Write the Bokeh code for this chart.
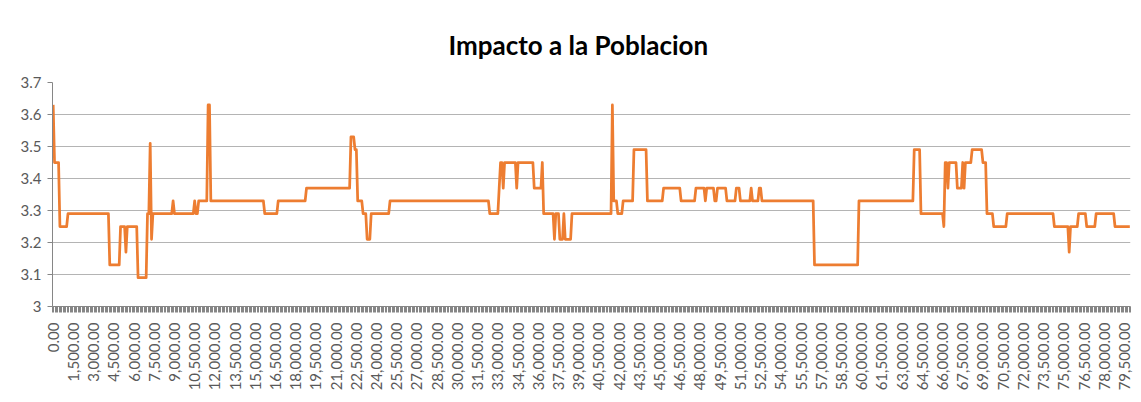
from bokeh.plotting import figure
from bokeh.models import (Range1d, FixedTicker, NumeralTickFormatter,
                          CustomJSTickFormatter, ColumnDataSource)
from bokeh.embed import file_html
from bokeh.resources import INLINE

# ---------------- data ----------------
title_text = "Impacto a la Poblacion"
cat_step = 100            # category spacing on the x axis
n_categories = 800        # 0.00 ... 79,900.00
label_every = 1500        # labelled categories
y_ticks = [3.0, 3.1, 3.2, 3.3, 3.4, 3.5, 3.6, 3.7]

# piece-wise constant series: category where a new level starts, and the level
run_start = [0, 100, 500, 1100, 4200, 5000, 5400, 5500, 6300, 7000,
             7200, 7300, 7400, 8900, 9000, 10500, 10600, 10800, 11500, 11700,
             15700, 16700, 18800, 22100, 22400, 22600, 23000, 23300, 23600, 25000,
             32400, 33100, 33200, 33400, 33500, 34400, 34500, 35700, 36300, 36400,
             37200, 37300, 37600, 37900, 38000, 38500, 41500, 41600, 41900, 42300,
             43100, 44100, 45300, 46600, 47700, 48400, 48500, 49100, 49300, 50000,
             50700, 51000, 51800, 51900, 52400, 52600, 56500, 59800, 63900, 64400,
             66100, 66200, 66400, 66500, 67100, 67500, 67600, 67700, 68200, 69000,
             69300, 69800, 70800, 74300, 75400, 75500, 76100, 76700, 77400, 78800]
run_value = [3.63, 3.45, 3.25, 3.29, 3.13, 3.25, 3.17, 3.25, 3.09, 3.29,
             3.51, 3.21, 3.29, 3.33, 3.29, 3.33, 3.29, 3.33, 3.63, 3.33,
             3.29, 3.33, 3.37, 3.53, 3.49, 3.33, 3.29, 3.21, 3.29, 3.33,
             3.29, 3.37, 3.45, 3.37, 3.45, 3.37, 3.45, 3.37, 3.45, 3.29,
             3.21, 3.29, 3.21, 3.29, 3.21, 3.29, 3.63, 3.33, 3.29, 3.33,
             3.49, 3.33, 3.37, 3.33, 3.37, 3.33, 3.37, 3.33, 3.37, 3.33,
             3.37, 3.33, 3.37, 3.33, 3.37, 3.33, 3.13, 3.33, 3.49, 3.29,
             3.25, 3.45, 3.37, 3.45, 3.37, 3.45, 3.37, 3.45, 3.49, 3.45,
             3.29, 3.25, 3.29, 3.25, 3.17, 3.25, 3.29, 3.25, 3.29, 3.25]

categories = [i * cat_step for i in range(n_categories)]
values = []
j = 0
for c in categories:
    while j + 1 < len(run_start) and run_start[j + 1] <= c:
        j += 1
    values.append(run_value[j])

source = ColumnDataSource(data=dict(x=categories, y=values))

# ---------------- figure ----------------
FONT = "Lato"
TXT = "#595959"
AXIS = "#868686"

p = figure(width=1136, height=396, output_backend="svg", toolbar_location=None,
           x_range=Range1d(-cat_step / 2, categories[-1] + cat_step / 2),
           y_range=Range1d(3.0, 3.7),
           min_border_left=52, min_border_right=6, min_border_top=82,
           min_border_bottom=90)
p.outline_line_color = None
p.background_fill_color = "white"
p.border_fill_color = "white"

p.title.text = title_text
p.title.align = "left"
p.title.offset = 396
p.title.standoff = 44
p.title.text_font = FONT
p.title.text_font_style = "bold"
p.title.text_font_size = "26px"
p.title.text_color = "#000000"

p.line("x", "y", source=source, line_color="#ED7D31", line_width=2.75,
       line_join="round")

# x axis
xa = p.xaxis[0]
xa.ticker = FixedTicker(
    ticks=[c for c in categories if c % label_every == 0],
    minor_ticks=[c - cat_step / 2 for c in categories] + [categories[-1] + cat_step / 2])
xa.formatter = NumeralTickFormatter(format="0,0.00")
xa.major_label_orientation = 1.5707963
xa.major_tick_line_color = None
xa.major_tick_in = 0
xa.major_tick_out = 0
xa.minor_tick_in = 0
xa.minor_tick_out = 6
xa.minor_tick_line_color = AXIS
xa.axis_line_color = AXIS
xa.major_label_standoff = 10
xa.major_label_text_font = FONT
xa.major_label_text_font_size = "15px"
xa.major_label_text_color = TXT

# y axis
ya = p.yaxis[0]
ya.ticker = FixedTicker(ticks=y_ticks, minor_ticks=[])
ya.formatter = CustomJSTickFormatter(
    code="return Math.abs(tick - 3) < 1e-9 ? '3' : tick.toFixed(1);")
ya.axis_line_color = AXIS
ya.major_tick_line_color = AXIS
ya.major_tick_in = 0
ya.major_tick_out = 5
ya.minor_tick_line_color = None
ya.major_label_standoff = 6
ya.major_label_text_font = FONT
ya.major_label_text_font_size = "15px"
ya.major_label_text_color = TXT

p.xgrid.grid_line_color = None
p.ygrid.grid_line_color = "#b4b4b4"
p.ygrid.grid_line_width = 1

open("out.html", "w").write(file_html(p, INLINE))
